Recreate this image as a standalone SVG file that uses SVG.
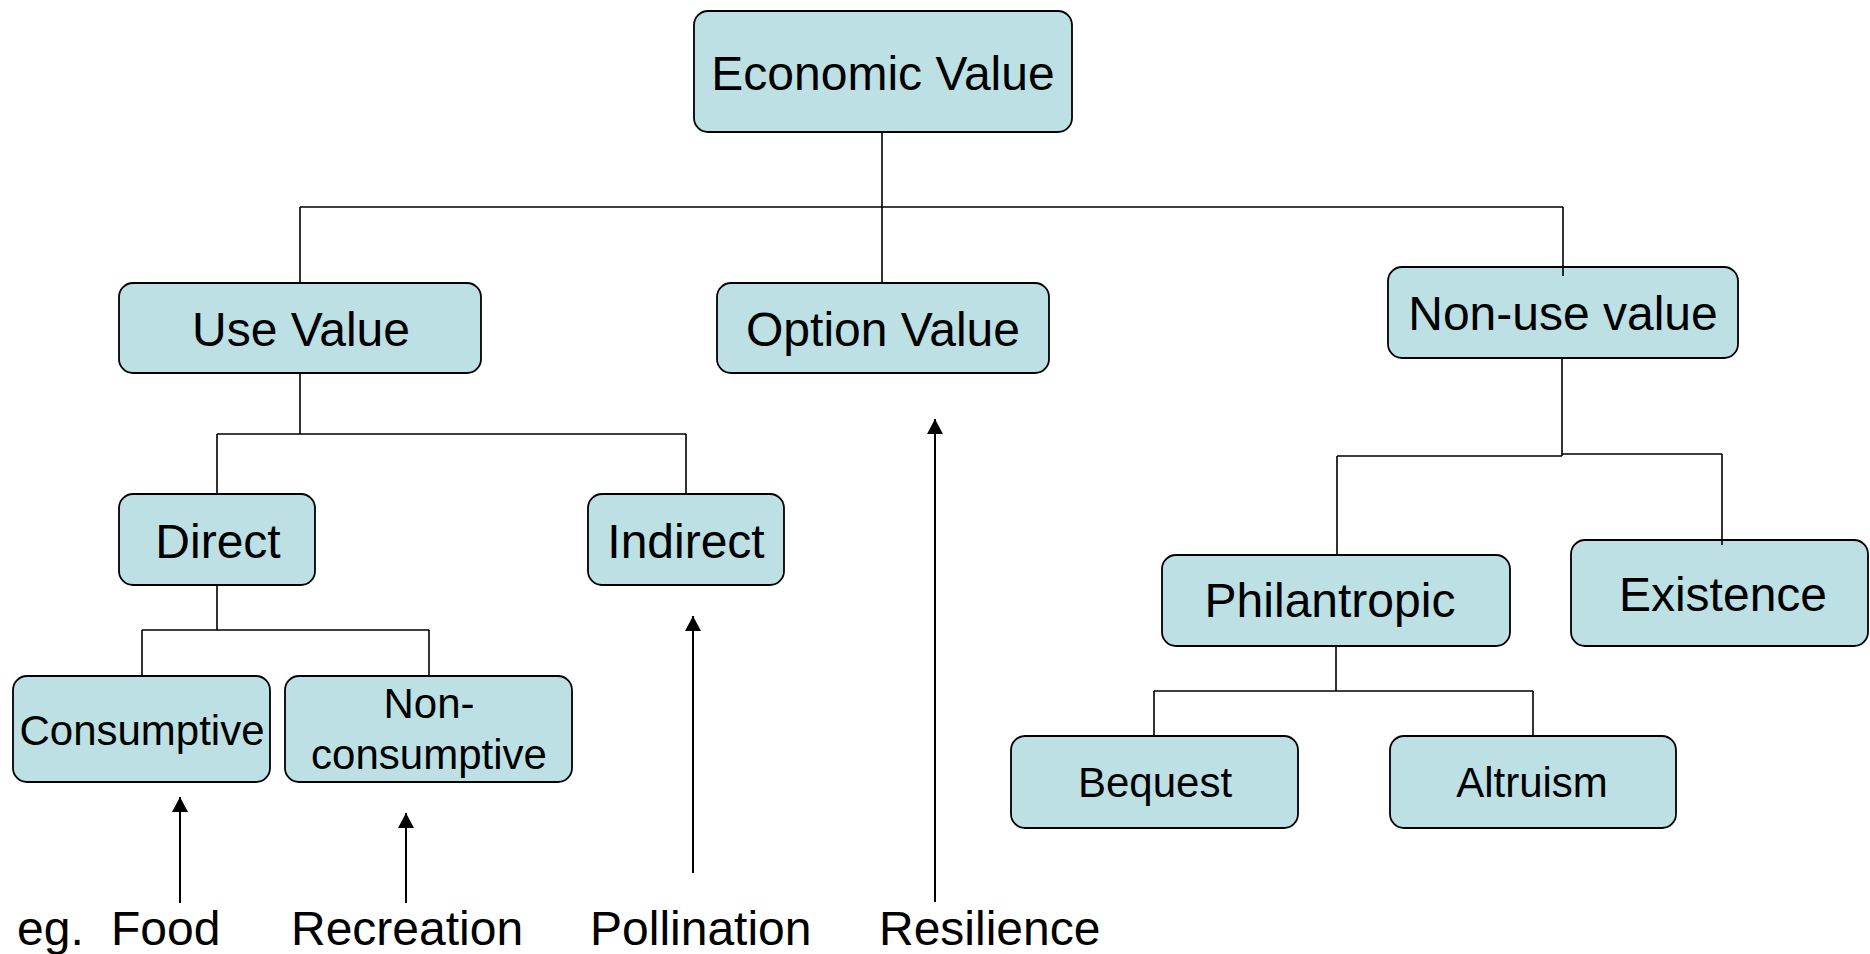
<svg xmlns="http://www.w3.org/2000/svg" width="1870" height="954" viewBox="0 0 1870 954">
<style>
.box{fill:#bce0e3;stroke:#000;stroke-width:1.8}
.t{font-family:"Liberation Sans",Arial,sans-serif;fill:#000;text-anchor:middle}
.big{font-size:48px}
.small{font-size:42px}
.lbl{font-family:"Liberation Sans",Arial,sans-serif;font-size:48px;fill:#000}
.c{stroke:#000;stroke-width:1.6;fill:none}
.a{stroke:#000;stroke-width:2;fill:none;marker-end:url(#ah)}
</style>
<defs>
<marker id="ah" markerUnits="userSpaceOnUse" markerWidth="16" markerHeight="16" viewBox="0 0 16 16" refX="15" refY="8" orient="auto">
<path d="M0,0 L15,8 L0,16 z" fill="#000"/>
</marker>
</defs>
<rect width="1870" height="954" fill="#fff"/>
<g id="nodes">
<g id="economic-value"><rect class="box" x="694" y="11" width="378" height="121" rx="14"/><text class="t big" x="883" y="90">Economic Value</text></g>
<g id="use-value"><rect class="box" x="119" y="283" width="362" height="90" rx="14"/><text class="t big" x="301" y="346">Use Value</text></g>
<g id="option-value"><rect class="box" x="717" y="283" width="332" height="90" rx="14"/><text class="t big" x="883" y="346">Option Value</text></g>
<g id="non-use-value"><rect class="box" x="1388" y="267" width="350" height="91" rx="14"/><text class="t big" x="1563" y="330">Non-use value</text></g>
<g id="direct"><rect class="box" x="119" y="494" width="196" height="91" rx="14"/><text class="t big" x="218" y="558">Direct</text></g>
<g id="indirect"><rect class="box" x="588" y="494" width="196" height="91" rx="14"/><text class="t big" x="686" y="558">Indirect</text></g>
<g id="consumptive"><rect class="box" x="13" y="676" width="257" height="106" rx="14"/><text class="t small" x="142" y="745">Consumptive</text></g>
<g id="non-consumptive"><rect class="box" x="285" y="676" width="287" height="106" rx="14"/><text class="t small" x="429" y="718">Non-</text><text class="t small" x="429" y="769">consumptive</text></g>
<g id="philantropic"><rect class="box" x="1162" y="555" width="348" height="91" rx="14"/><text class="t big" x="1330" y="617">Philantropic</text></g>
<g id="existence"><rect class="box" x="1571" y="540" width="297" height="106" rx="14"/><text class="t big" x="1723" y="611">Existence</text></g>
<g id="bequest"><rect class="box" x="1011" y="736" width="287" height="92" rx="14"/><text class="t small" x="1155" y="797">Bequest</text></g>
<g id="altruism"><rect class="box" x="1390" y="736" width="286" height="92" rx="14"/><text class="t small" x="1532" y="797">Altruism</text></g>
</g>
<g id="connectors">
<path class="c" d="M882,132 V207 M300,207 H1563 M300,207 V283 M882,207 V283 M1563,207 V276"/>
<path class="c" d="M300,373 V434 M217,434 H686 M217,434 V494 M686,434 V494"/>
<path class="c" d="M217,585 V630 M142,630 H429 M142,630 V676 M429,630 V676"/>
<path class="c" d="M1562,358 V456 M1337,456 H1562 M1562,454 H1722 M1337,456 V555 M1722,454 V545"/>
<path class="c" d="M1336,646 V691 M1154,691 H1533 M1154,691 V736 M1533,691 V736"/>
<line class="a" x1="180" y1="903" x2="180" y2="797"/>
<line class="a" x1="406" y1="903" x2="406" y2="813"/>
<line class="a" x1="693" y1="873" x2="693" y2="616"/>
<line class="a" x1="935" y1="902" x2="935" y2="419"/>
</g>
<g id="labels">
<text class="lbl" x="17" y="945">eg.</text>
<text class="lbl" x="111" y="945">Food</text>
<text class="lbl" x="291" y="945">Recreation</text>
<text class="lbl" x="590" y="945">Pollination</text>
<text class="lbl" x="879" y="945">Resilience</text>
</g>
</svg>
